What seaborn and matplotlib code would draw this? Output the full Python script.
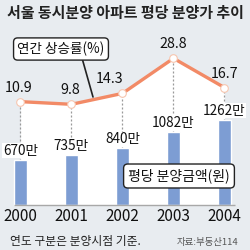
import numpy as np
import pandas as pd
import matplotlib
matplotlib.use("Agg")
import matplotlib.pyplot as plt
from matplotlib.lines import Line2D
import seaborn as sns

# ---- data ----
years = ["2000", "2001", "2002", "2003", "2004"]
prices = [670, 735, 840, 1082, 1262]          # 평당 분양금액 (만원)
rates = [10.9, 9.8, 14.3, 28.8, 16.7]          # 연간 상승률 (%)

title = "서울 동시분양 아파트 평당 분양가 추이"
legend_rate = "연간 상승률(%)"
legend_price = "평당 분양금액(원)"
note = "연도 구분은 분양시점 기준."
source = "자료:부동산114"

sns.set_theme(style="white")
plt.rcParams['font.family'] = ['Noto Sans CJK KR', 'DejaVu Sans']

BG = "#e8ecf0"
BAR = "#7d9dd3"
LINE = "#f28a66"

fig = plt.figure(figsize=(2.5, 2.5), dpi=100, facecolor=BG)
ax_line = fig.add_axes([0, 0, 1, 1])
ax_bar = ax_line.twinx()

pos = np.arange(len(years))
df = pd.DataFrame({"year": years, "pos": pos, "price": prices, "rate": rates})

for a in (ax_line, ax_bar):
    a.set_xlim(-0.40, 4.5)
ax_bar.set_ylim(-666.7, 3037)
ax_line.set_ylim(-50.4, 52.9)

# bars
sns.barplot(data=df, x="pos", y="price", ax=ax_bar, color=BAR, width=0.27,
            saturation=1, native_scale=True, zorder=3)
ax_bar.set_xlim(-0.40, 4.5)
ax_bar.set_ylim(-666.7, 3037)

# baseline of bar axis in line-axis coordinates
base_px = ax_bar.transData.transform((0, 0))
base2 = ax_line.transData.inverted().transform(base_px)[1]

# white area under the line
ax_line.fill_between(df["pos"], df["rate"], base2, color="white", zorder=1, lw=0)
ax_line.vlines(df["pos"], base2, df["rate"], colors="#9a9a9a", lw=0.9,
               linestyles=(0, (1.6, 1.6)), zorder=2)
sns.lineplot(data=df, x="pos", y="rate", ax=ax_line, color=LINE, lw=2.4,
             marker="o", markersize=5.5, markerfacecolor="white",
             markeredgecolor="#f7c6b0", markeredgewidth=0.8, zorder=3)

ax_bar.hlines(0, -0.125, 4.21, colors="#a8a8a8", lw=1.0, zorder=4)

# line labels
dx = [-1, -1, -9, 0, 0]
for i, (p, r) in enumerate(zip(pos, rates)):
    ax_line.annotate(f"{r}", (p, r), xytext=(dx[i], 5), textcoords="offset points",
                     ha="center", va="bottom", fontsize=10.3, color="#111111")

# bar labels
for p, v in zip(pos, prices):
    ax_bar.annotate(f"{v}만", (p, v), xytext=(0, 1.5), textcoords="offset points",
                    ha="center", va="bottom", fontsize=9.8, color="#111111",
                    bbox=dict(boxstyle="square,pad=0.05", fc="white", ec="none"),
                    zorder=5)

# year labels
for p, y in zip(pos, years):
    ax_bar.annotate(y, (p, 0), xytext=(0, -2.5), textcoords="offset points",
                    ha="center", va="top", fontsize=11, color="#111111")

for a in (ax_line, ax_bar):
    a.axis("off")

# title
fig.text(0.5, 1 - 13 / 250, title, ha="center", va="center", fontsize=10.8,
         fontweight="bold", color="#222222")

# legend boxes
fig.text(61 / 250, 1 - 49 / 250, legend_rate, ha="center", va="center",
         fontsize=9.8, color="#111111",
         bbox=dict(boxstyle="round,pad=0.28,rounding_size=0.3", fc="white",
                   ec="#222222", lw=1.0))
fig.text(179 / 250, 1 - 176 / 250, legend_price, ha="center", va="center",
         fontsize=10, color="#111111",
         bbox=dict(boxstyle="round,pad=0.33,rounding_size=0.3", fc="white",
                   ec="#222222", lw=1.0))
fig.add_artist(Line2D([82 / 250, 93 / 250], [1 - 58 / 250, 1 - 97 / 250],
                      transform=fig.transFigure, color="#222222", lw=1.2))

# footer
fig.text(10 / 250, 1 - 242 / 250, note, ha="left", va="center", fontsize=8.5,
         color="#222222")
fig.text(238 / 250, 1 - 242 / 250, source, ha="right", va="center", fontsize=6.8,
         color="#555555", style="italic")

fig.savefig("out.png", dpi=100, facecolor=BG)
